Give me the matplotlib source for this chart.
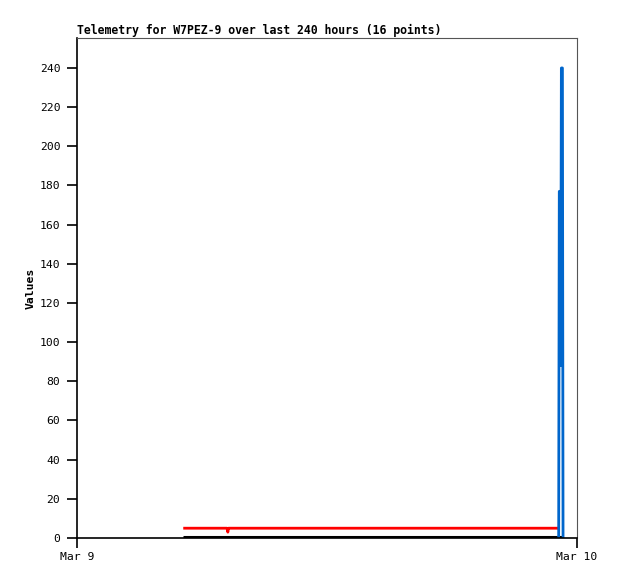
import matplotlib.pyplot as plt

plt.rcParams['font.family'] = ['DejaVu Sans Mono']

# hours since Mar 9 00:00
red_t = [5.1, 7.2, 7.24, 7.27, 7.3, 23.15]
red_v = [5, 5, 3, 5, 5, 5]

black_t = [5.1, 23.35]
black_v = [0.3, 0.3]

blue_t = [23.12, 23.15, 23.18, 23.22, 23.25, 23.30, 23.33]
blue_v = [0, 177, 177, 88, 240, 240, 0]

ticks = [0, 24]
tick_labels = ["Mar 9", "Mar 10"]
yticks = list(range(0, 241, 20))

fig = plt.figure(figsize=(6.18, 5.79), dpi=100)
ax = fig.add_axes([77 / 618, 41 / 579, 500 / 618, 500 / 579])

ax.plot(black_t, black_v, color="black", lw=2.2, solid_capstyle="butt")
ax.plot(red_t, red_v, color="#ff0000", lw=2, solid_capstyle="butt")
ax.plot(blue_t, blue_v, color="#0066cc", lw=2.0, solid_capstyle="butt")

ax.set_xlim(0, 24)
ax.set_ylim(0, 255.3)
ax.set_xticks(ticks)
ax.set_xticklabels(tick_labels, fontsize=8.2)
ax.set_yticks(yticks)
ax.set_yticklabels([str(v) for v in yticks], fontsize=8.2)
ax.tick_params(axis="y", length=7, width=1.2, pad=5)
ax.tick_params(axis="x", length=7, width=1.2, pad=3)

for s in ["top", "right"]:
    ax.spines[s].set_color("#555555")
    ax.spines[s].set_linewidth(0.8)
for s in ["left", "bottom"]:
    ax.spines[s].set_color("black")
    ax.spines[s].set_linewidth(1.2)

ax.set_ylabel("Values", fontsize=8.2, fontweight="bold", labelpad=3)
ax.set_title("Telemetry for W7PEZ-9 over last 240 hours (16 points)",
             fontsize=8.3, fontweight="bold", loc="left", pad=3)

plt.savefig("out.png", dpi=100)
